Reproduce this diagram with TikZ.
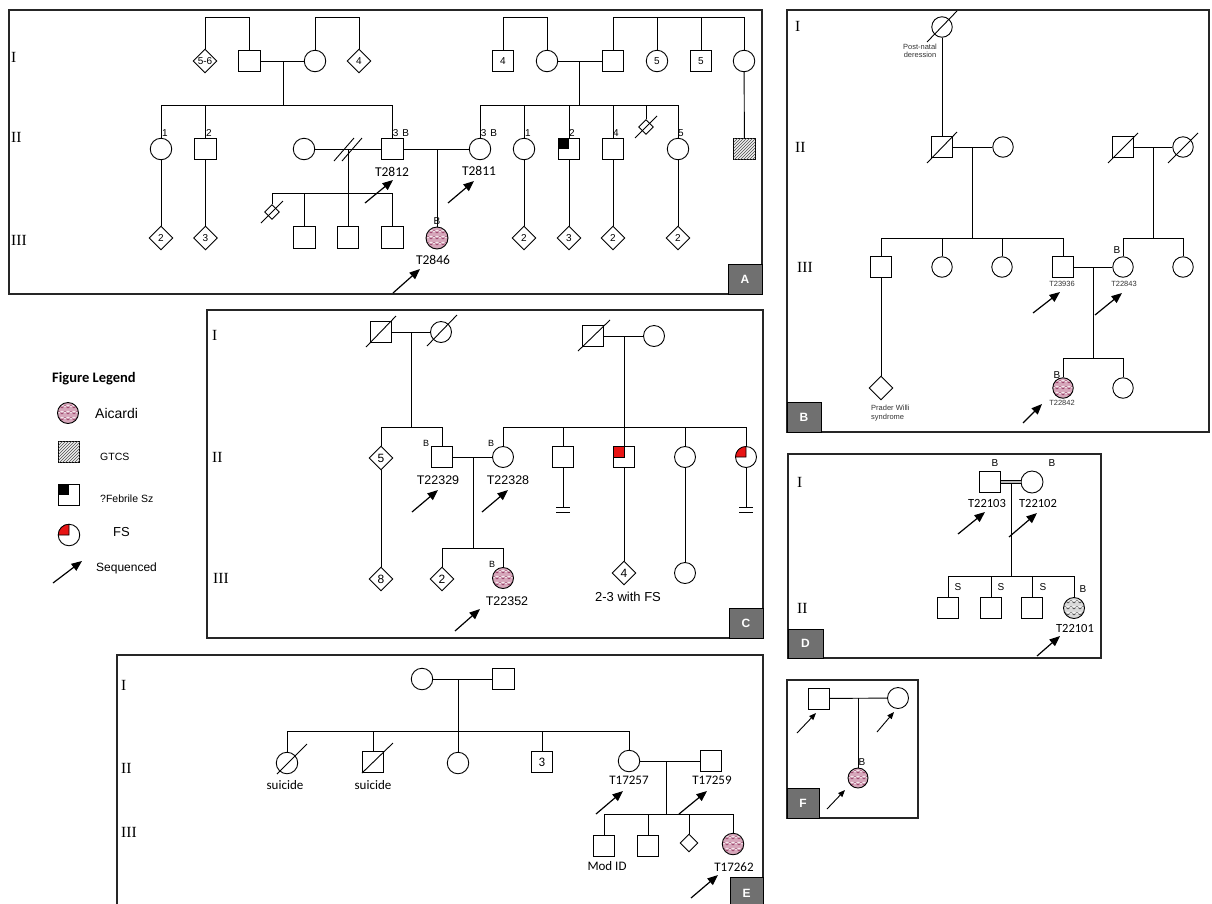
\documentclass[tikz,border=0pt]{standalone}
\usepackage{fontspec}
\setmainfont{Liberation Serif}
\setsansfont{Liberation Sans}
\newfontfamily\carl{Carlito}
\usetikzlibrary{shapes.geometric,arrows.meta,patterns}
\definecolor{aicpink}{RGB}{214,166,186}
\definecolor{aicdark}{RGB}{150,60,100}
\definecolor{fsred}{RGB}{232,20,20}
\definecolor{labgray}{RGB}{112,112,112}
\newcommand\sibline[3]{\draw[pl] (#2.north) -- (#2.north |- #1) -- (#3.north |- #1) -- (#3.north);}
\newcommand\sibdrop[2]{\draw[pl] (#2.north) -- (#2.north |- #1);}
% name, coordinate, radius, fill, line colour
\newcommand\aicnode[5]{%
  \coordinate (#1-c) at #2;
  \begin{scope}
    \clip (#1-c) circle[radius=#3pt];
    \fill[#4] (#1-c) circle[radius=#3pt];
    \foreach \dy in {-7,-1,5}{
      \draw[#5,line width=0.55pt] ([shift={(-12pt,\dy pt)}]#1-c) -- ++(3pt,2.5pt) -- ++(3pt,-2.5pt) -- ++(3pt,2.5pt) -- ++(3pt,-2.5pt) -- ++(3pt,2.5pt) -- ++(3pt,-2.5pt) -- ++(3pt,2.5pt) -- ++(3pt,-2.5pt);}
    \foreach \dy in {-4,2,8}{
      \draw[white,line width=0.5pt] ([shift={(-12pt,\dy pt)}]#1-c) -- ++(3pt,-2pt) -- ++(3pt,2pt) -- ++(3pt,-2pt) -- ++(3pt,2pt) -- ++(3pt,-2pt) -- ++(3pt,2pt) -- ++(3pt,-2pt) -- ++(3pt,2pt);}
  \end{scope}
  \node[ci,fill=none,minimum size={2*#3pt}] (#1) at (#1-c) {};}
\begin{document}
\begin{tikzpicture}[x=1pt,y=-1pt,
  pl/.style={line width=0.9pt},
  panel/.style={line width=1.2pt,draw=black!85},
  sq/.style={draw,line width=0.9pt,rectangle,minimum size=21.5pt,inner sep=0pt,fill=white},
  ci/.style={draw,line width=0.9pt,circle,minimum size=21.5pt,inner sep=0pt,fill=white},
  di/.style={draw,line width=0.9pt,diamond,aspect=1,minimum size=24pt,inner sep=0pt,fill=white,font=\sffamily\fontsize{10}{10}\selectfont},
  gen/.style={font=\rmfamily\fontsize{15.5}{15.5}\selectfont,anchor=west,inner sep=0pt},
  num/.style={font=\sffamily\fontsize{10}{10}\selectfont,inner sep=0pt},
  tA/.style={font=\carl\fontsize{13.5}{14}\selectfont,inner sep=0pt},
  tB/.style={font=\sffamily\fontsize{7.5}{8.5}\selectfont,inner sep=0pt,text=black!80},
  tC/.style={font=\sffamily\fontsize{12.5}{13}\selectfont,inner sep=0pt},
  lt/.style={font=\sffamily\fontsize{#1}{#1}\selectfont,anchor=west,inner sep=0pt},
  seq/.style={line width=1.2pt,-{Triangle[length=10.5pt,width=8.5pt]}},
  seqs/.style={line width=0.9pt,-{Triangle[length=7pt,width=5.5pt]}},
  plab/.style={draw,line width=0.9pt,fill=labgray,text=white,font=\sffamily\bfseries\fontsize{12}{12}\selectfont,minimum width=34pt,minimum height=30pt,inner sep=0pt}
]
\useasboundingbox (0,0) rectangle (1212,903);

% ================= Panel A =================
\draw[panel] (9,10) rectangle (762,294);
\node[plab] at (745,279) {A};
\node[gen] at (11,57) {I};
\node[gen] at (11,137) {II};
\node[gen] at (11,240) {III};
\coordinate (aTop) at (0,17);
\node[di] (a56) at (205,61) {5-6};
\node[sq] (aI1) at (249.5,61) {};
\node[ci] (aI2) at (315,61) {};
\node[di] (a4d) at (359,61) {4};
\draw[pl] (a56.north) -- (a56.north |- aTop) -- (aI1.north |- aTop) -- (aI1.north);
\draw[pl] (aI2.north) -- (aI2.north |- aTop) -- (a4d.north |- aTop) -- (a4d.north);
\draw[pl] (aI1) -- (aI2);
\coordinate (aJ1) at (283,61); \coordinate (aS1) at (283,105);
\draw[pl] (aJ1) -- (aS1);
\node[sq] (a4s) at (503,61) {\sffamily\fontsize{10}{10}\selectfont 4};
\node[ci] (aI3) at (547,61) {};
\node[sq] (aI4) at (613,61) {};
\node[ci] (a5c) at (657,61) {\sffamily\fontsize{10}{10}\selectfont 5};
\node[sq] (a5s) at (701,61) {\sffamily\fontsize{10}{10}\selectfont 5};
\node[ci] (aI5) at (744,61) {};
\draw[pl] (a4s.north) -- (a4s.north |- aTop) -- (aI3.north |- aTop) -- (aI3.north);
\sibline{aTop}{aI4}{aI5}
\sibdrop{aTop}{a5c}
\sibdrop{aTop}{a5s}
\draw[pl] (aI3) -- (aI4);
\coordinate (aJ2) at (579,61); \coordinate (aS2) at (579,105);
\draw[pl] (aJ2) -- (aS2);
% gen II
\node[ci] (aII1) at (161,149) {}; \node[num] at (165,133) {1};
\node[sq] (aII2) at (205.5,149) {}; \node[num] at (209,133) {2};
\node[ci] (aSp) at (304,149) {};
\node[sq] (aII3) at (392.5,149) {}; \node[num] at (401,133) {3\hspace{4pt}B};
\node[ci] (aT2811) at (480,149) {}; \node[num] at (489,133) {3\hspace{4pt}B};
\node[ci] (aII5) at (524,149) {}; \node[num] at (528,133) {1};
\node[sq] (aII6) at (569,149) {}; \node[num] at (572,133) {2};
\fill (aII6.north west) rectangle (aII6.center);
\node[sq] (aII7) at (613,149) {}; \node[num] at (616,133) {4};
\node[di,minimum size=15pt] (aMis) at (646,127) {};
\draw[pl] (635,138) -- (657,116);
\node[ci] (aII8) at (678,149) {}; \node[num] at (681,133) {5};
\node[sq,fill=gray!12,postaction={pattern=north east lines,pattern color=black!70}] (aGT) at (744.5,149) {};
\draw[pl] (aI5) -- (aGT);
\sibline{aS1}{aII1}{aII3}
\sibdrop{aS1}{aII2}
\sibline{aS2}{aT2811}{aII8}
\sibdrop{aS2}{aII5}
\sibdrop{aS2}{aII6}
\sibdrop{aS2}{aII7}
\sibdrop{aS2}{aMis}
\draw[pl] (aSp) -- (aII3);
\draw[pl] (334,161) -- (354,138);
\draw[pl] (342,161) -- (362,138);
\draw[pl] (aII3) -- (aT2811);
\node[tA] at (392,172) {T2812};
\node[tA] at (479,171) {T2811};
\draw[seq] (365,203) -- (393,180);
\draw[seq] (448,203) -- (474,181);
% gen III
\node[di] (aIII1) at (161,238) {2};
\node[di] (aIII2) at (205.5,238) {3};
\draw[pl] (aII1) -- (aIII1);
\draw[pl] (aII2) -- (aIII2);
\node[di,minimum size=15pt] (aMis2) at (272,212) {};
\draw[pl] (261,223) -- (283,201);
\node[sq] (aIIIa) at (304.5,237.5) {};
\node[sq] (aIIIb) at (348,237.5) {};
\node[sq] (aIIIc) at (392.5,237.5) {};
\coordinate (aJ3) at (348,149); \coordinate (aS3) at (348,193);
\draw[pl] (aJ3) -- (aIIIb.north);
\sibline{aS3}{aMis2}{aIIIc}
\sibdrop{aS3}{aIIIa}
\aicnode{aT2846}{(437,238)}{11}{aicpink}{aicdark}
\coordinate (aJ4) at (437,149);
\draw[pl] (aJ4) -- (aT2846.north);
\node[num] at (437,221) {B};
\node[tA] at (433,260) {T2846};
\draw[seq] (393,293) -- (420,269);
\node[di] (aIII5) at (524,238) {2};
\node[di] (aIII6) at (569,238) {3};
\node[di] (aIII7) at (613,238) {2};
\node[di] (aIII8) at (678,238) {2};
\draw[pl] (aII5) -- (aIII5);
\draw[pl] (aII6) -- (aIII6);
\draw[pl] (aII7) -- (aIII7);
\draw[pl] (aII8) -- (aIII8);

% ================= Panel B =================
\draw[panel] (787,10) rectangle (1209,432);
\node[plab] at (804,417) {B};
\node[gen] at (795,26) {I};
\node[gen] at (795,147) {II};
\node[gen] at (797,267) {III};
\node[ci,minimum size=20.5pt] (bI) at (942,27) {};
\draw[pl] (927,42) -- (957,11);
\node[tB,align=center] at (920,51) {Post-natal\\deression};
\node[sq,minimum size=20.5pt] (bII1) at (942,147) {};
\draw[pl] (927,163) -- (957,132);
\draw[pl] (bI) -- (bII1);
\node[ci,minimum size=20.5pt] (bII2) at (1003,147) {};
\draw[pl] (bII1) -- (bII2);
\coordinate (bJ1) at (972,147); \coordinate (bS1) at (972,238);
\draw[pl] (bJ1) -- (bS1);
\node[sq,minimum size=20.5pt] (bIII1) at (881,267) {};
\node[ci,minimum size=20.5pt] (bIII2) at (942,267) {};
\node[ci,minimum size=20.5pt] (bIII3) at (1002,267) {};
\node[sq,minimum size=20.5pt] (bT23936) at (1063,267) {};
\sibline{bS1}{bIII1}{bT23936}
\sibdrop{bS1}{bIII2}
\sibdrop{bS1}{bIII3}
\node[di] (bPW) at (881,388) {};
\draw[pl] (bIII1) -- (bPW);
\node[tB,align=left,anchor=west] at (871,413) {Prader Willi\\syndrome};
\node[sq,minimum size=20.5pt] (bII3) at (1123,147) {};
\draw[pl] (1108,163) -- (1138,133);
\node[ci,minimum size=20.5pt] (bII4) at (1183,147) {};
\draw[pl] (1168,163) -- (1198,133);
\draw[pl] (bII3) -- (bII4);
\coordinate (bJ2) at (1153,147); \coordinate (bS2) at (1153,238);
\draw[pl] (bJ2) -- (bS2);
\node[ci,minimum size=20.5pt] (bT22843) at (1123,267) {};
\node[ci,minimum size=20.5pt] (bIII6) at (1183,267) {};
\sibline{bS2}{bT22843}{bIII6}
\node[num] at (1117,250) {B};
\draw[pl] (bT23936) -- (bT22843);
\coordinate (bJ3) at (1093,267); \coordinate (bS3) at (1093,358);
\draw[pl] (bJ3) -- (bS3);
\aicnode{bT22842}{(1063,388)}{10.25}{aicpink}{aicdark}
\node[ci,minimum size=20.5pt] (bIV2) at (1123,388) {};
\sibline{bS3}{bT22842}{bIV2}
\node[num] at (1057,375) {B};
\node[tB] at (1062,284) {T23936};
\node[tB] at (1124,284) {T22843};
\node[tB] at (1062,403) {T22842};
\draw[seq] (1033,313) -- (1060,292);
\draw[seq] (1095,315) -- (1122,293);
\draw[seq] (1023,423) -- (1042,404);

% ================= Legend =================
\node[font=\carl\bfseries\fontsize{14.5}{15}\selectfont,anchor=west,inner sep=0pt] at (52,379) {Figure Legend};
\aicnode{lAic}{(68,413)}{10.5}{aicpink}{aicdark}
\node[lt=14] at (95,413) {Aicardi};
\node[sq,fill=gray!12,postaction={pattern=north east lines,pattern color=black!70}] (lGT) at (69,452) {};
\node[lt=10.5] at (100,457) {GTCS};
\node[sq] (lFeb) at (69,495) {};
\fill (lFeb.north west) rectangle (lFeb.center);
\node[lt=10.5] at (100,499) {?Febrile Sz};
\node[ci] (lFS) at (69,535) {};
\filldraw[fill=fsred,line width=0.7pt] (lFS.center) -- ([xshift=-10.75pt]lFS.center) arc[start angle=180,end angle=90,radius=10.75pt] -- cycle;
\node[lt=13] at (113,532) {FS};
\draw[seq] (53,583) -- (82,561);
\node[lt=12] at (96,568) {Sequenced};

% ================= Panel C =================
\draw[panel] (207,310) rectangle (763,638);
\node[plab] at (746,623) {C};
\node[gen] at (212,335) {I};
\node[gen] at (212,457) {II};
\node[gen] at (213,578) {III};
\node[sq,minimum size=20.5pt] (cI1) at (381,332) {};
\draw[pl] (366,347) -- (396,316);
\node[ci,minimum size=21pt] (cI2) at (441,332) {};
\draw[pl] (427,346) -- (457,315);
\draw[pl] (cI1) -- (cI2);
\coordinate (cJ1) at (411,332); \coordinate (cS1) at (411,427);
\draw[pl] (cJ1) -- (cS1);
\node[di,font=\sffamily\fontsize{12}{12}\selectfont] (cII1) at (381,458) {5};
\node[sq,minimum size=20.5pt] (cT22329) at (442,457) {};
\sibline{cS1}{cII1}{cT22329}
\node[num,font=\sffamily\fontsize{9}{9}\selectfont] at (426,443) {B};
\node[sq,minimum size=20.5pt] (cI3) at (593,336) {};
\draw[pl] (578,351) -- (610,320);
\node[ci,minimum size=21pt] (cI4) at (654,336) {};
\draw[pl] (cI3) -- (cI4);
\coordinate (cJ2) at (624,336); \coordinate (cS2) at (624,427);
\draw[pl] (cJ2) -- (cS2);
\node[ci,minimum size=21pt] (cT22328) at (503,457) {};
\node[num,font=\sffamily\fontsize{9}{9}\selectfont] at (491,443) {B};
\node[sq,minimum size=20.5pt] (cII4) at (563,457) {};
\node[sq,minimum size=20.5pt] (cII5) at (624,457) {};
\filldraw[fill=fsred,line width=0.7pt] (cII5.north west) rectangle (cII5.center);
\node[ci,minimum size=21pt] (cII6) at (685,457) {};
\node[ci,minimum size=21pt] (cII7) at (746,457) {};
\filldraw[fill=fsred,line width=0.7pt] (cII7.center) -- ([xshift=-10.5pt]cII7.center) arc[start angle=180,end angle=90,radius=10.5pt] -- cycle;
\sibline{cS2}{cT22328}{cII7}
\sibdrop{cS2}{cII4}
\sibdrop{cS2}{cII5}
\sibdrop{cS2}{cII6}
\coordinate (cNo1) at (563,507); \coordinate (cNo2) at (746,507);
\draw[pl] (cII4) -- (cNo1);
\draw[pl] (556,507) -- (570,507); \draw[pl] (556,512) -- (570,512);
\draw[pl] (cII7) -- (cNo2);
\draw[pl] (739,507) -- (753,507); \draw[pl] (739,512) -- (753,512);
\draw[pl] (cT22329) -- (cT22328);
\coordinate (cJ3) at (473,457); \coordinate (cS3) at (473,548);
\draw[pl] (cJ3) -- (cS3);
\node[tC] at (438,480) {T22329};
\node[tC] at (508,480) {T22328};
\draw[seq] (412,512) -- (438,490);
\draw[seq] (482,512) -- (508,490);
\node[di,font=\sffamily\fontsize{12}{12}\selectfont] (cIII1) at (381,579) {8};
\draw[pl] (cII1) -- (cIII1);
\node[di,font=\sffamily\fontsize{12}{12}\selectfont] (cIII2) at (442,579) {2};
\aicnode{cT22352}{(503,578)}{10.5}{aicpink}{aicdark}
\sibline{cS3}{cIII2}{cT22352}
\node[num,font=\sffamily\fontsize{9}{9}\selectfont] at (492,564) {B};
\node[tC] at (507,601) {T22352};
\draw[seq] (455,631) -- (480,609);
\node[di,font=\sffamily\fontsize{12}{12}\selectfont] (cIII4) at (624,573) {4};
\draw[pl] (cII5) -- (cIII4);
\node[tC,font=\sffamily\fontsize{13}{13}\selectfont] at (628,597) {2-3 with FS};
\node[ci,minimum size=21pt] (cIII5) at (685,573) {};
\draw[pl] (cII6) -- (cIII5);

% ================= Panel D =================
\draw[panel] (788,454) rectangle (1101,658);
\node[plab,minimum width=35pt,minimum height=29pt] at (805.5,643.5) {D};
\node[gen] at (797,482) {I};
\node[gen] at (797,608) {II};
\node[sq,minimum size=21pt] (dT22103) at (990,482) {};
\node[ci,minimum size=22pt] (dT22102) at (1032,482) {};
\draw[line width=0.7pt,double=gray!55,double distance=2.2pt] (dT22103) -- (dT22102);
\node[num] at (995,463) {B};
\node[num] at (1052,463) {B};
\coordinate (dJ) at (1011,484); \coordinate (dS) at (1011,576);
\draw[pl] (dJ) -- (dS);
\node[tA,font=\carl\fontsize{12.5}{13}\selectfont] at (987,503) {T22103};
\node[tA,font=\carl\fontsize{12.5}{13}\selectfont] at (1038,503) {T22102};
\draw[seq] (958,534) -- (985,512);
\draw[seq] (1009,537) -- (1037,513);
\node[sq,minimum size=21pt] (dII1) at (948,608) {};
\node[sq,minimum size=21pt] (dII2) at (991,608) {};
\node[sq,minimum size=21pt] (dII3) at (1032,608) {};
\aicnode{dT22101}{(1074,608)}{10.5}{gray!30}{black!75}
\sibline{dS}{dII1}{dT22101}
\sibdrop{dS}{dII2}
\sibdrop{dS}{dII3}
\node[num] at (958,587) {S};
\node[num] at (1001,587) {S};
\node[num] at (1043,587) {S};
\node[num] at (1083,589) {B};
\node[tA,font=\carl\fontsize{12.5}{13}\selectfont] at (1075,628) {T22101};
\draw[seq] (1037,656) -- (1060,636);

% ================= Panel E =================
\draw[panel] (117,655) rectangle (763,912);
\node[plab,minimum width=33pt,minimum height=32pt] at (746.5,893) {E};
\node[gen] at (121,685) {I};
\node[gen] at (121,768) {II};
\node[gen] at (121,832) {III};
\node[ci] (eI1) at (422,679) {};
\node[sq] (eI2) at (503.5,679) {};
\draw[pl] (eI1) -- (eI2);
\coordinate (eJ1) at (458,679); \coordinate (eS1) at (458,731);
\draw[pl] (eJ1) -- (eS1);
\node[ci] (eII1) at (287,763) {};
\draw[pl] (277,774) -- (307,744);
\node[sq] (eII2) at (373,762) {};
\draw[pl] (362,773) -- (393,743);
\node[ci] (eII3) at (458,763) {};
\node[sq] (eII4) at (542,762) {\carl\fontsize{13}{13}\selectfont 3};
\node[ci] (eT17257) at (629,761) {};
\sibline{eS1}{eII1}{eT17257}
\sibdrop{eS1}{eII2}
\sibdrop{eS1}{eII3}
\sibdrop{eS1}{eII4}
\node[tA,font=\carl\fontsize{13}{13}\selectfont] at (285,785) {suicide};
\node[tA,font=\carl\fontsize{13}{13}\selectfont] at (373,785) {suicide};
\node[sq] (eT17259) at (711,761) {};
\draw[pl] (eT17257) -- (eT17259);
\coordinate (eJ2) at (666,761); \coordinate (eS2) at (666,814);
\draw[pl] (eJ2) -- (eS2);
\node[tA,font=\carl\fontsize{13}{13}\selectfont] at (629,780) {T17257};
\node[tA,font=\carl\fontsize{13}{13}\selectfont] at (712,780) {T17259};
\draw[seq] (596,814) -- (623,791);
\draw[seq] (679,814) -- (707,791);
\node[sq] (eIII1) at (604,846) {};
\node[sq] (eIII2) at (648,846) {};
\node[di,minimum size=18pt] (eIII3) at (689,843) {};
\aicnode{eT17262}{(733,844)}{10.75}{aicpink}{aicdark}
\sibline{eS2}{eIII1}{eT17262}
\sibdrop{eS2}{eIII2}
\sibdrop{eS2}{eIII3}
\node[tA,font=\carl\fontsize{13}{13}\selectfont] at (607,866) {Mod ID};
\node[tA,font=\carl\fontsize{13}{13}\selectfont] at (734,867) {T17262};
\draw[seq] (691,898) -- (718,875);

% ================= Panel F =================
\draw[panel] (787,680) rectangle (918,818);
\node[plab,minimum width=32pt,minimum height=30pt] at (803,803) {F};
\node[sq,minimum size=21pt] (fS) at (818.5,698.5) {};
\node[ci,minimum size=21pt] (fC) at (898,698) {};
\draw[pl] (fS) -- (fC);
\coordinate (fJ) at (858,698);
\aicnode{fA}{(858,778)}{10}{aicpink}{aicdark}
\draw[pl] (fJ) -- (fA.north);
\node[num] at (862,762) {B};
\draw[seqs] (797,733) -- (816,713);
\draw[seqs] (877,732) -- (894,712);
\draw[seqs] (827,809) -- (845,790);
\end{tikzpicture}
\end{document}
